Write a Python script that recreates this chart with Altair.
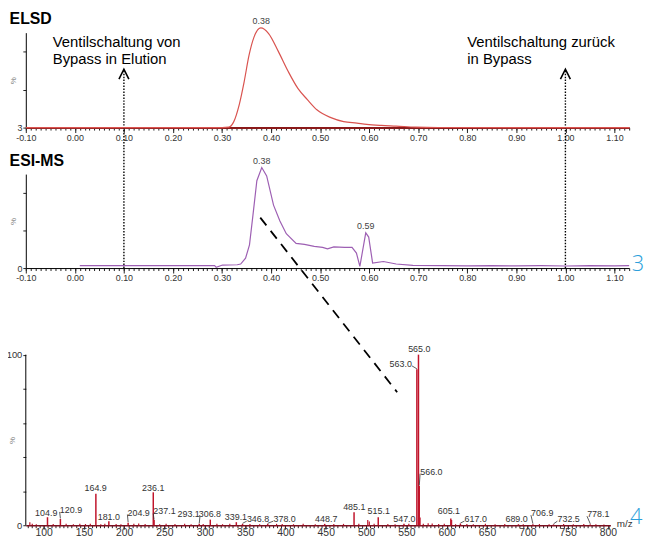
import altair as alt
import numpy as np
import pandas as pd

FONT = "Liberation Sans"

# ---------------- data ----------------
# ELSD chromatogram (time in min, signal in %)
elsd_time = [-0.10, 0.30, 0.314, 0.324, 0.335, 0.345, 0.355, 0.365, 0.379, 0.395,
             0.415, 0.435, 0.455, 0.474, 0.494, 0.522, 0.548, 0.575, 0.595, 0.625,
             0.655, 0.695, 0.74, 1.13]
elsd_signal = [0, 0, 0.5, 6.3, 24, 48, 76, 95, 105, 99,
               80, 59, 41, 29.5, 18.5, 10.5, 6.3, 4.7, 3.4, 2.3,
               1.6, 0.5, 0.1, 0]
elsd_peak_time = [0.38]
elsd_peak_label = ["0.38"]

# ESI-MS chromatogram
esi_time = [0.010, 0.285, 0.288, 0.301, 0.331, 0.338, 0.348, 0.356, 0.363, 0.371,
            0.381, 0.391, 0.405, 0.418, 0.431, 0.451, 0.468, 0.488, 0.505, 0.515,
            0.528, 0.550, 0.565, 0.574, 0.581, 0.593, 0.599, 0.607, 0.629, 0.655,
            0.689, 0.75, 0.80, 0.85, 0.90, 0.95, 1.00, 1.05, 1.10, 1.13]
esi_signal = [2.5, 2.5, 0.8, 3.2, 3.5, 4.3, 10.5, 24.7, 56, 93,
              107, 98, 67, 50, 36.5, 26.3, 25.2, 23, 22, 20.5,
              22.5, 22, 22, 16, 1.7, 37.5, 33, 5.4, 7, 4.3,
              2.8, 2.5, 2.3, 2.6, 2.3, 2.5, 2.2, 2.6, 2.4, 2.5]
esi_peak_time = [0.381, 0.593]
esi_peak_label = ["0.38", "0.59"]

# panel headings (placed in each panel's own units)
panel_titles = ["ELSD", "ESI-MS"]
panel_title_time = -0.133
panel_title_level = [108.9, 109.0]

# valve switching annotations
valve_time = [0.10, 1.00]
valve_text = ["Ventilschaltung von\nBypass in Elution", "Ventilschaltung zurück\nin Bypass"]
valve_text_time = [-0.045, 0.800]
valve_text_level = [84.7, 84.7]
valve_arrow_level = 56.3
valve_line_top = 60.4
valve_line_bottom = -147.9

# dashed connector (ESI-MS peak -> mass spectrum), in ESI-MS units
connector_time = [0.378, 0.657]
connector_level = [53.7, -132.1]

# mass spectrum: labelled peaks
ms_mz = [104.9, 120.9, 164.9, 181.0, 204.9, 236.1, 237.1, 293.1, 306.8, 339.1,
         346.8, 378.0, 448.7, 485.1, 515.1, 547.0, 563.0, 565.0, 566.0, 605.1,
         617.0, 689.0, 706.9, 732.5, 778.1]
ms_int = [4.7, 3.7, 18.5, 2.3, 1.5, 19.3, 3.0, 0.8, 3.3, 1.8,
          0.8, 0.8, 0.8, 7.6, 4.7, 0.8, 91.4, 100, 23, 4.0,
          1.0, 0.6, 0.6, 0.5, 0.5]
ms_label_mz = [103.3, 134, 164.6, 181, 218, 236, 250, 280, 306.3, 338.6,
               366, 399, 450.6, 485.4, 515.7, 547.5, 543, 566, 581, 602.7,
               636, 686.7, 718.5, 751.3, 788]
ms_label_int = [5.7, 7.2, 19.8, 3.3, 5.7, 20.3, 6.3, 4.7, 4.7, 3.1,
                1.8, 1.8, 1.8, 9.2, 6.6, 1.8, 92.8, 101.7, 29.6, 6.6,
                1.8, 1.8, 5.3, 1.8, 4.7]
# unlabelled small peaks / noise
noise_mz = [83, 86, 91, 112, 128, 137, 145, 152, 158, 171,
            176, 190, 196, 212, 218, 226, 244, 252, 263, 275,
            283, 298, 315, 322, 331, 356, 368, 389, 396, 410,
            422, 437, 460, 472, 491, 502.1, 504, 510, 527, 536,
            553, 567, 571, 577, 582, 590, 597, 606.1, 611, 625,
            633, 648, 660, 672, 695, 715, 727, 745, 757, 770,
            785, 795]
noise_int = [1.8, 0.8, 0.6, 0.7, 0.9, 0.6, 0.8, 0.7, 0.9, 0.6,
             0.8, 0.7, 0.6, 0.8, 1.0, 0.7, 0.6, 0.9, 0.7, 0.8,
             0.6, 0.7, 0.9, 0.6, 0.8, 0.7, 0.6, 0.8, 0.7, 0.6,
             0.9, 0.6, 0.7, 0.8, 0.9, 3.0, 2.2, 0.8, 0.7, 0.6,
             0.9, 4.5, 0.8, 1.2, 1.0, 0.7, 0.8, 3.0, 0.6, 0.7,
             0.6, 0.8, 0.6, 0.7, 0.6, 0.7, 0.6, 0.7, 0.6, 0.7,
             0.6, 0.5]

# figure call-out numbers
callout_time = 1.148
callout_mz = 835

# ---------------- layout ----------------
W12, H1, H2 = 610, 96, 95
W3, H3 = 591, 213
GAP = 47
t_dom = [-0.10, 1.13]
mz_dom = [78, 803]
ms_top = 123.5

RED = "#d9534f"
PURPLE = "#9d5fb3"
MSRED = "#c0142b"
BLUE = "#2c9fdb"

t_major = np.round(np.arange(-0.10, 1.1301, 0.10), 2).tolist()
t_minor = np.round(np.arange(-0.10, 1.1301, 0.01), 2).tolist()
mz_major = list(range(100, 801, 50))
mz_minor = list(range(80, 801, 5))


def major_time_axis(dcol, dw):
    return alt.Axis(
        values=t_major, orient="bottom",
        labelExpr="replace(format(round(datum.value*100)/100, '.2f'), '\u2212', '-')",
        tickSize=5, labelFontSize=9, labelColor="#333", labelPadding=1,
        labelOverlap=False, labelFlush=False, domainColor=dcol, domainWidth=dw,
        tickColor="#222", grid=False, title=None)


def minor_axis(vals, size):
    return alt.Axis(values=vals, orient="bottom", labels=False, tickSize=size,
                    domain=False, tickColor="#222", grid=False, title=None)


def pct_axis(h, lab, fs, domain=True, tx=-12):
    return alt.Axis(
        values=list(range(0, 101, 10)), labelExpr=lab, tickSize=3,
        labelFontSize=fs, labelPadding=1, labelColor="#333", labelOverlap=False,
        labelFlush=False, domain=domain, domainColor="black", tickColor="#222",
        grid=False, title="%", titleFontSize=8, titleFontWeight="normal",
        titleColor="#777", titleX=tx, titleY=h, titleAlign="center",
        titleBaseline="middle")


xs = alt.Scale(domain=t_dom, nice=False, zero=False)
XT = alt.X("t:Q", axis=None)

# ---------------- panel 1: ELSD ----------------
elsd_df = pd.DataFrame({"t": elsd_time, "v": elsd_signal})
elsd_pk = pd.DataFrame({"t": elsd_peak_time, "lab": elsd_peak_label,
                        "v": np.interp(elsd_peak_time, elsd_time, elsd_signal)})
valve_df = pd.DataFrame({"t": valve_time, "v": [valve_line_bottom] * 2,
                         "v2": [valve_line_top] * 2, "va": [valve_arrow_level] * 2})
vtext_df = pd.DataFrame({"t": valve_text_time, "v": valve_text_level, "lab": valve_text})
head1 = pd.DataFrame({"t": [panel_title_time], "v": [panel_title_level[0]], "lab": [panel_titles[0]]})
minor_t_df = pd.DataFrame({"t": t_minor})

p1_minor = alt.Chart(minor_t_df).mark_point(opacity=0).encode(
    x=alt.X("t:Q", scale=xs, axis=minor_axis(t_minor, 2.5)))
p1_line = alt.Chart(elsd_df).mark_line(color=RED, strokeWidth=1.2, interpolate="monotone").encode(
    x=alt.X("t:Q", scale=xs, axis=major_time_axis("#8b1a1a", 2)),
    y=alt.Y("v:Q", scale=alt.Scale(domain=[0, 100], nice=False, zero=False),
            axis=pct_axis(H1 - 48, "datum.value == 0 ? '3' : ''", 9)))
p1_pk = alt.Chart(elsd_pk).mark_text(baseline="bottom", dy=-2, fontSize=9, color="#444", font=FONT).encode(
    x=XT, y="v:Q", text="lab:N")
p1_valve = alt.Chart(valve_df).mark_rule(color="black", strokeWidth=1.4, strokeDash=[1.5, 1.5]).encode(
    x=XT, y="v:Q", y2="v2:Q")
p1_arrow = alt.Chart(valve_df).mark_point(shape="M-1,1L0,-1L1,1", filled=False, size=100,
                                          strokeWidth=1.6, color="black", opacity=1).encode(
    x=XT, y=alt.Y("va:Q"))
p1_text = alt.Chart(vtext_df).mark_text(align="left", baseline="alphabetic", fontSize=15,
                                        lineBreak="\n", lineHeight=17.3, font=FONT, color="black").encode(
    x=XT, y="v:Q", text="lab:N")
p1_head = alt.Chart(head1).mark_text(align="left", baseline="alphabetic", fontSize=16,
                                     fontWeight="bold", font=FONT, color="black").encode(
    x=XT, y="v:Q", text="lab:N")
panel1 = alt.layer(p1_minor, p1_valve, p1_line, p1_pk, p1_text, p1_arrow, p1_head).resolve_axis(
    x="independent").properties(width=W12, height=H1)

# ---------------- panel 2: ESI-MS ----------------
esi_df = pd.DataFrame({"t": esi_time, "v": esi_signal})
esi_pk = pd.DataFrame({"t": esi_peak_time, "lab": esi_peak_label,
                       "v": np.interp(esi_peak_time, esi_time, esi_signal)})
conn_df = pd.DataFrame({"t": [connector_time[0]], "t2": [connector_time[1]],
                        "v": [connector_level[0]], "v2": [connector_level[1]]})
fig3_df = pd.DataFrame({"t": [callout_time], "v": [4.7], "lab": ["3"]})
head2 = pd.DataFrame({"t": [panel_title_time], "v": [panel_title_level[1]], "lab": [panel_titles[1]]})

p2_minor = alt.Chart(minor_t_df).mark_point(opacity=0).encode(
    x=alt.X("t:Q", scale=xs, axis=minor_axis(t_minor, 2.5)))
p2_line = alt.Chart(esi_df).mark_line(color=PURPLE, strokeWidth=1.2).encode(
    x=alt.X("t:Q", scale=xs, axis=major_time_axis("black", 1)),
    y=alt.Y("v:Q", scale=alt.Scale(domain=[0, 100], nice=False, zero=False),
            axis=pct_axis(H2 - 47.5, "datum.value == 0 ? '0' : ''", 9)))
p2_pk = alt.Chart(esi_pk).mark_text(baseline="bottom", dy=-2, fontSize=9, color="#444", font=FONT).encode(
    x=XT, y="v:Q", text="lab:N")
p2_conn = alt.Chart(conn_df).mark_rule(color="black", strokeWidth=1.8, strokeDash=[10, 7]).encode(
    x=XT, x2="t2:Q", y="v:Q", y2="v2:Q")
p2_fig = alt.Chart(fig3_df).mark_text(fontSize=22, color=BLUE, font="Open Sans", fontWeight=300,
                                      baseline="middle", align="center").encode(
    x=XT, y="v:Q", text="lab:N")
p2_head = alt.Chart(head2).mark_text(align="left", baseline="alphabetic", fontSize=16,
                                     fontWeight="bold", font=FONT, color="black").encode(
    x=XT, y="v:Q", text="lab:N")
panel2 = alt.layer(p2_minor, p2_line, p2_pk, p2_conn, p2_fig, p2_head).resolve_axis(
    x="independent").properties(width=W12, height=H2)

# ---------------- panel 3: mass spectrum ----------------
ms_df = pd.DataFrame({"mz": ms_mz, "i": ms_int, "i0": 0.0})
noise_df = pd.DataFrame({"mz": noise_mz, "i": noise_int, "i0": 0.0})
lab_df = pd.DataFrame({"mz": ms_label_mz, "i": ms_label_int,
                       "lab": [f"{m:.1f}" for m in ms_mz]})
lead = []
for m, it, lm, li in zip(ms_mz, ms_int, ms_label_mz, ms_label_int):
    if abs(lm - m) > 6:
        s = np.sign(lm - m)
        lead.append({"mz": m, "i": it + 0.3, "mz2": lm - s * 14, "i2": li + 0.6})
lead_df = pd.DataFrame(lead)
yax_df = pd.DataFrame({"mz": [mz_dom[0]], "i": [0], "i2": [100]})
fig4_df = pd.DataFrame({"mz": [callout_mz], "i": [5.0], "lab": ["4"]})
minor_mz_df = pd.DataFrame({"mz": mz_minor})

xs3 = alt.Scale(domain=mz_dom, nice=False, zero=False)
ys3 = alt.Scale(domain=[0, ms_top], nice=False, zero=False)
XM = alt.X("mz:Q", axis=None)
y50 = H3 - 50 * H3 / ms_top

p3_minor = alt.Chart(minor_mz_df).mark_point(opacity=0).encode(
    x=alt.X("mz:Q", scale=xs3, axis=minor_axis(mz_minor, 2.5)))
p3_noise = alt.Chart(noise_df).mark_rule(color=MSRED, strokeWidth=1.2).encode(
    x=alt.X("mz:Q", scale=xs3, axis=alt.Axis(
        values=mz_major, orient="bottom", tickSize=4, labelFontSize=10.5, labelColor="#333",
        labelPadding=-2, labelOverlap=False, labelFlush=False, domainColor="#7a1020",
        domainWidth=1.5, tickColor="#222", grid=False, title="m/z", titleFontSize=10,
        titleFontWeight="normal", titleColor="#333", titleX=W3 + 6, titleY=1,
        titleAlign="left", titleBaseline="alphabetic")),
    y=alt.Y("i0:Q", scale=ys3, axis=pct_axis(y50, "datum.value == 0 ? '0' : datum.value == 100 ? '100' : ''",
                                             9.5, domain=False, tx=-13)),
    y2="i:Q")
p3_bars = alt.Chart(ms_df).mark_rule(color=MSRED, strokeWidth=1.5).encode(
    x=XM, y="i0:Q", y2="i:Q")
p3_lead = alt.Chart(lead_df).mark_rule(color="#333", strokeWidth=0.8).encode(
    x=XM, x2="mz2:Q", y="i:Q", y2="i2:Q")
p3_lab = alt.Chart(lab_df).mark_text(baseline="alphabetic", align="center", fontSize=9,
                                     color="#333", font=FONT).encode(
    x=XM, y="i:Q", text="lab:N")
p3_yax = alt.Chart(yax_df).mark_rule(color="black", strokeWidth=1).encode(
    x=XM, y="i:Q", y2="i2:Q")
p3_fig = alt.Chart(fig4_df).mark_text(fontSize=22, color=BLUE, font="Open Sans", fontWeight=300,
                                      baseline="middle", align="center").encode(
    x=XM, y="i:Q", text="lab:N")
panel3 = alt.layer(p3_minor, p3_noise, p3_bars, p3_lead, p3_lab, p3_yax, p3_fig).resolve_axis(
    x="independent").properties(width=W3, height=H3)

chart = alt.vconcat(panel1, panel2, panel3, spacing=GAP, bounds="flush").properties(
    padding={"left": -2, "top": 0, "right": 0, "bottom": -2}
).configure(font=FONT).configure_view(stroke="transparent", strokeOpacity=0).configure_axis(
    labelFont=FONT, titleFont=FONT)

chart.save("out.html", embed_options={"renderer": "svg", "actions": False})
